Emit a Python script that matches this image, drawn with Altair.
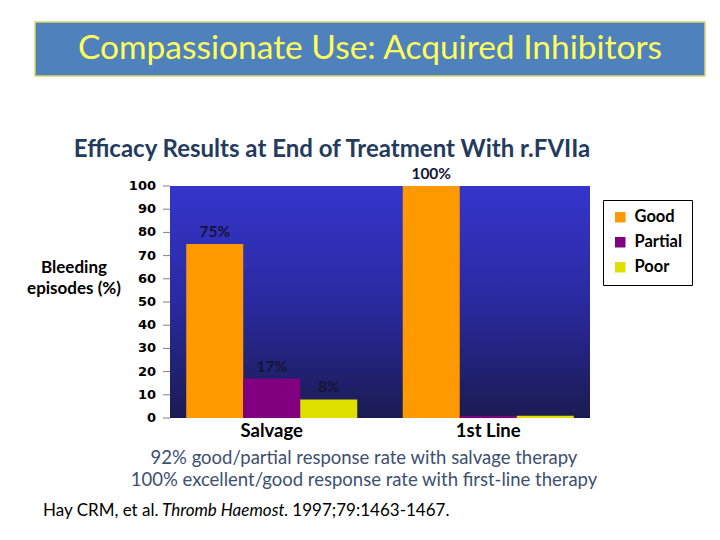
import altair as alt
import pandas as pd

# ---- data ----
categories = ["Salvage", "1st Line"]
responses = ["Good", "Partial", "Poor"]
good = [75, 100]
partial = [17, 1]
poor = [8, 1]
good_labels = ["75%", "100%"]
partial_labels = ["17%", ""]
poor_labels = ["8%", ""]
colors = ["#FF9900", "#800080", "#E0E000"]
y_ticks = [0, 10, 20, 30, 40, 50, 60, 70, 80, 90, 100]
y_tick_labels = ["0", "10", "20", "30", "40", "50", "60", "70", "80", "90", "100"]

banner_text = "Compassionate Use: Acquired Inhibitors"
chart_title = "Efficacy Results at End of Treatment With r.FVIIa"
y_title = ["Bleeding", "episodes (%)"]
notes = ["92% good/partial response rate with salvage therapy",
         "100% excellent/good response rate with first-line therapy"]
citation = ["Hay CRM, et al.", "Thromb Haemost", ". 1997;79:1463-1467."]

rows = []
for i, c in enumerate(categories):
    for r, vals, labs in zip(responses, [good, partial, poor],
                             [good_labels, partial_labels, poor_labels]):
        rows.append({"category": c, "response": r, "value": vals[i], "label": labs[i]})
df = pd.DataFrame(rows)
ticks_df = pd.DataFrame({"tick": y_ticks, "tlabel": y_tick_labels})

W, H = 420, 232
one = pd.DataFrame([{"k": 0}])

y_scale = alt.Scale(domain=[0, 100], nice=False)

x_enc = alt.X("category:N", sort=categories,
              scale=alt.Scale(paddingInner=0.21, paddingOuter=0.075),
              axis=alt.Axis(title=None, labelFontSize=18.5, labelFontWeight="bold",
                            labelColor="#000000", labelFont="Lato", ticks=False,
                            domain=False, labelPadding=3, labelAngle=0))
xo_enc = alt.XOffset("response:N", sort=responses)
y_enc = alt.Y("value:Q", scale=y_scale, axis=None)

background = alt.Chart(one).mark_rect(
    color=alt.LinearGradient(gradient="linear",
                             stops=[alt.GradientStop(color="#3535CC", offset=0),
                                    alt.GradientStop(color="#2A2AA0", offset=0.5),
                                    alt.GradientStop(color="#1B1B52", offset=1)],
                             x1=0, x2=0, y1=0, y2=1)
).encode(x=alt.value(0), x2=alt.value(W), y=alt.value(0), y2=alt.value(H))

bars = alt.Chart(df).mark_bar().encode(
    x=x_enc, xOffset=xo_enc, y=y_enc,
    color=alt.Color("response:N", sort=responses,
                    scale=alt.Scale(domain=responses, range=colors),
                    legend=alt.Legend(title=None, orient="none", legendX=433, legendY=14,
                                      strokeColor="#000000", padding=9,
                                      symbolType="square", symbolSize=110,
                                      symbolStrokeWidth=0, symbolOpacity=1,
                                      labelFont="Lato", labelFontSize=16.5,
                                      labelFontWeight="bold", labelColor="#000000",
                                      rowPadding=8, labelOffset=6))
)

labels = alt.Chart(df).mark_text(
    baseline="bottom", dy=-4, font="Lato", fontSize=15.5, fontWeight="bold", color="#141438"
).encode(x=x_enc, xOffset=xo_enc, y=y_enc, text="label:N")

# y axis ticks and labels drawn through the y scale
tick_marks = alt.Chart(ticks_df).mark_rule(color="#808080", strokeWidth=1).encode(
    y=alt.Y("tick:Q", scale=y_scale, axis=None), x=alt.value(-7), x2=alt.value(0))
tick_text = alt.Chart(ticks_df).mark_text(
    align="right", baseline="middle", font="DejaVu Sans", fontWeight="bold",
    fontSize=13, color="#000000"
).encode(y=alt.Y("tick:Q", scale=y_scale, axis=None), x=alt.value(-14), text="tlabel:N")

def txt(s, x, y, **kw):
    return alt.Chart(one).mark_text(text=s, **kw).encode(x=alt.value(x), y=alt.value(y))

banner = alt.Chart(one).mark_rect(fill="#4F81BD", stroke="#D8D86A", strokeWidth=1.5).encode(
    x=alt.value(-135), x2=alt.value(535), y=alt.value(-164), y2=alt.value(-110))

layers = [
    background, bars, labels, tick_marks, tick_text, banner,
    txt(banner_text, 200, -137, font="Lato", fontSize=33.5, color="#FFFF5A",
        align="center", baseline="middle"),
    txt(chart_title, 162, -36, font="Lato", fontSize=24, fontWeight="bold",
        color="#243B5E", align="center", baseline="middle"),
    txt(y_title[0], -96, 82, font="Lato", fontSize=17, fontWeight="bold",
        color="#000000", align="center", baseline="middle"),
    txt(y_title[1], -96, 103, font="Lato", fontSize=17, fontWeight="bold",
        color="#000000", align="center", baseline="middle"),
    txt(notes[0], 194, 272, font="Lato", fontSize=18.5, color="#3E4F6E",
        align="center", baseline="middle"),
    txt(notes[1], 194, 294, font="Lato", fontSize=18.5, color="#3E4F6E",
        align="center", baseline="middle"),
    txt(citation[0], -127, 325, font="Lato", fontSize=17, color="#000000",
        align="left", baseline="middle"),
    txt(citation[1], -8, 325, font="Lato", fontSize=17, fontStyle="italic",
        color="#000000", align="left", baseline="middle"),
    txt(citation[2], 114, 325, font="Lato", fontSize=17, color="#000000",
        align="left", baseline="middle"),
]

chart = alt.layer(*layers).properties(
    width=W, height=H,
    autosize=alt.AutoSizeParams(type="none"),
    padding={"left": 162, "top": 178, "right": 122, "bottom": 114},
    background="#FFFFFF",
).configure_view(stroke=None)

chart.save("out.html", embed_options={"renderer": "svg", "actions": False})
